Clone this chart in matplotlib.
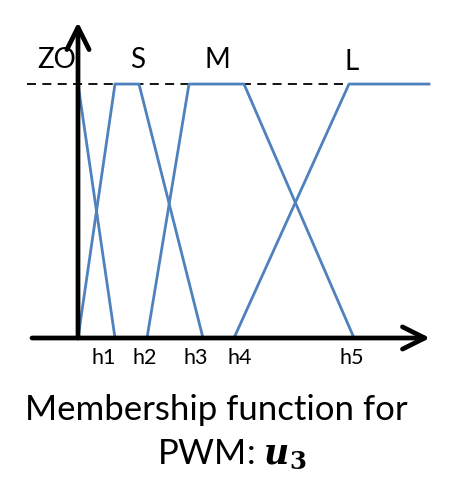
import matplotlib.pyplot as plt
from matplotlib.patches import FancyArrowPatch

plt.rcParams['font.family'] = ['Lato', 'DejaVu Sans']
plt.rcParams['mathtext.fontset'] = 'dejavuserif'

# breakpoints on the horizontal axis (h1..h5)
h_names = ['h1', 'h2', 'h3', 'h4', 'h5']
h_vals = [37, 69, 125, 156, 276]
h_label_x = [26, 67, 118, 162, 274]

# membership functions (x, degree)
zo_x = [0, 37]
zo_y = [1, 0]
s_x = [0, 37, 61, 125]
s_y = [0, 1, 1, 0]
m_x = [69, 111, 166, 276]
m_y = [0, 1, 1, 0]
l_x = [156, 271, 351]
l_y = [0, 1, 1]

set_names = ['ZO', 'S', 'M', 'L']
set_label_x = [-21, 60, 139, 274]
set_label_y = [1.094, 1.094, 1.094, 1.086]

blue = '#4F81BD'

fig = plt.figure(figsize=(4.58, 4.99), dpi=100)
ax = fig.add_axes([0, 0, 1, 1])
ax.set_xlim(-78, 380)
ax.set_ylim(-0.634, 1.331)
ax.axis('off')

# dashed reference line at full membership
ax.plot([-51, 350], [1, 1], color='black', lw=1.3, ls=(0, (5, 3.5)), zorder=1)

for xs, ys in [(zo_x, zo_y), (s_x, s_y), (m_x, m_y), (l_x, l_y)]:
    ax.plot(xs, ys, color=blue, lw=2.0, zorder=2)

# axes with arrows
arrow_kw = dict(arrowstyle='->,head_length=0.8,head_width=0.4', mutation_scale=20,
                color='black', lw=3.4, zorder=3, shrinkA=0, shrinkB=0)
ax.add_patch(FancyArrowPatch((-46, 0), (352, 0), **arrow_kw))
ax.add_patch(FancyArrowPatch((0, 0), (0, 1.244), **arrow_kw))

for name, x, y in zip(set_names, set_label_x, set_label_y):
    ax.text(x, y, name, fontsize=20, ha='center', va='center', zorder=1)

for name, x in zip(h_names, h_label_x):
    ax.text(x, -0.079, name, fontsize=15.5, ha='center', va='center')

ax.text(138, -0.285, 'Membership function for', fontsize=25, ha='center', va='center')
ax.text(154, -0.46, r'PWM: $\mathbfit{u}_\mathbf{3}$', fontsize=25, ha='center', va='center')

fig.savefig('out.png', dpi=100)
